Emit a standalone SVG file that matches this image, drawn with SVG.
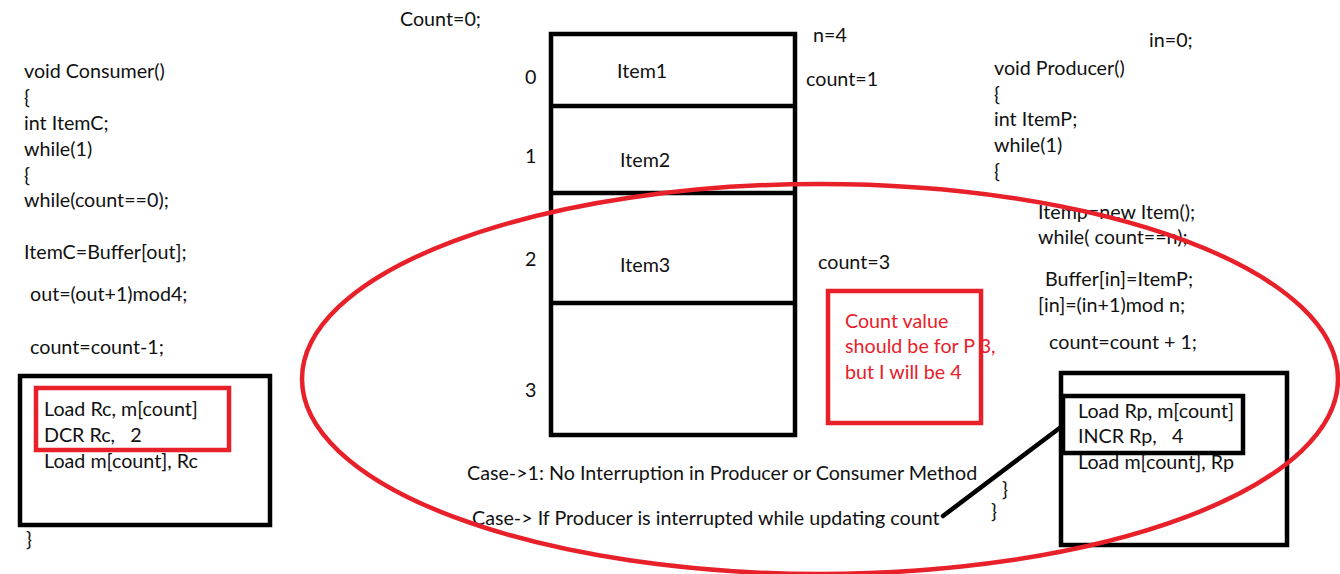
<svg xmlns="http://www.w3.org/2000/svg" width="1340" height="574" viewBox="0 0 1340 574">
<style>
text{font-family:Lato,"Liberation Sans",sans-serif;font-size:19.7px;fill:#111}
.r{fill:#e8202a}
.bx{fill:none;stroke:#000;stroke-width:4.5}
.rb{fill:none;stroke:#e8202a;stroke-width:4.5}
</style>
<rect width="1340" height="574" fill="#fff"/>
<g id="consumer-code">
<text x="24" y="78">void Consumer()</text>
<text x="24" y="104">{</text>
<text x="24" y="130">int ItemC;</text>
<text x="24" y="156">while(1)</text>
<text x="24" y="182">{</text>
<text x="24" y="207">while(count==0);</text>
<text x="24" y="259">ItemC=Buffer[out];</text>
<text x="30" y="301">out=(out+1)mod4;</text>
<text x="30" y="354">count=count-1;</text>
<text x="26" y="546">}</text>
</g>
<g id="consumer-asm">
<rect class="bx" x="20" y="376" width="250" height="149"/>
<rect class="rb" x="36" y="388" width="193" height="62"/>
<text x="44" y="416">Load Rc, m[count]</text>
<text x="44" y="442" xml:space="preserve">DCR Rc,   2</text>
<text x="44" y="468">Load m[count], Rc</text>
</g>
<text x="400" y="26">Count=0;</text>
<g id="buffer">
<rect class="bx" x="551" y="34" width="244" height="401"/>
<line class="bx" x1="551" y1="106" x2="795" y2="106"/>
<line class="bx" x1="551" y1="193" x2="795" y2="193"/>
<line class="bx" x1="551" y1="303" x2="795" y2="303"/>
<text x="525" y="84">0</text>
<text x="525" y="163">1</text>
<text x="525" y="266">2</text>
<text x="525" y="397">3</text>
<text x="617" y="78">Item1</text>
<text x="620" y="167">Item2</text>
<text x="620" y="272">Item3</text>
<text x="813" y="42">n=4</text>
<text x="806" y="86">count=1</text>
<text x="818" y="269">count=3</text>
</g>
<g id="note">
<text class="r" x="845" y="328">Count value</text>
<text class="r" x="845" y="353">should be for P 3,</text>
<text class="r" x="845" y="379">but I will be 4</text>
<rect class="rb" x="828" y="291" width="153" height="132"/>
</g>
<g id="producer-code">
<text x="1149" y="47">in=0;</text>
<text x="994" y="75">void Producer()</text>
<text x="994" y="101">{</text>
<text x="994" y="126">int ItemP;</text>
<text x="994" y="152">while(1)</text>
<text x="994" y="178">{</text>
<text x="1038" y="219">Itemp=new Item();</text>
<text x="1038" y="244">while( count==n);</text>
<text x="1045" y="286">Buffer[in]=ItemP;</text>
<text x="1038" y="312">[in]=(in+1)mod n;</text>
<text x="1049" y="349">count=count + 1;</text>
<text x="1002" y="496">}</text>
<text x="991" y="518">}</text>
</g>
<g id="producer-asm">
<rect class="bx" x="1061" y="373" width="226" height="172"/>
<rect class="bx" x="1063" y="396" width="180" height="57"/>
<text x="1078" y="418">Load Rp, m[count]</text>
<text x="1078" y="443" xml:space="preserve">INCR Rp,   4</text>
<text x="1078" y="469">Load m[count], Rp</text>
</g>
<g id="cases">
<text x="467" y="480">Case-&gt;1: No Interruption in Producer or Consumer Method</text>
<text x="472" y="525">Case-&gt; If Producer is interrupted while updating count</text>
</g>
<g id="connectors">
<ellipse cx="820" cy="379" rx="518" ry="195" fill="none" stroke="#e8202a" stroke-width="4.5"/>
<line x1="943" y1="516" x2="1061" y2="427" stroke="#000" stroke-width="4.5" stroke-linecap="round"/>
</g>
</svg>
